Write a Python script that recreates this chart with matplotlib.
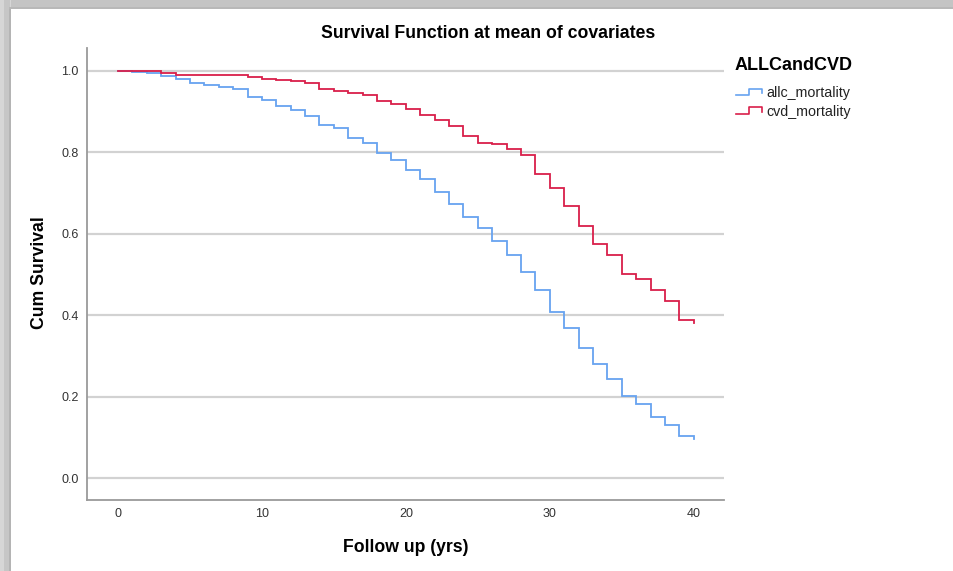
import numpy as np
import matplotlib
matplotlib.use("Agg")
import matplotlib.pyplot as plt
from matplotlib.lines import Line2D
from matplotlib.patches import Rectangle

plt.rcParams['font.family'] = ['Liberation Sans', 'DejaVu Sans']

# survival estimates at each follow-up year (value holds until the next year)
years = list(range(0, 41))
allc_mortality = [1.000, 0.996, 0.994, 0.987, 0.980, 0.971, 0.966, 0.959, 0.955, 0.935,
                  0.928, 0.913, 0.904, 0.890, 0.866, 0.859, 0.834, 0.823, 0.797, 0.782,
                  0.757, 0.734, 0.703, 0.674, 0.640, 0.613, 0.581, 0.548, 0.507, 0.461,
                  0.407, 0.368, 0.320, 0.280, 0.242, 0.201, 0.182, 0.151, 0.129, 0.104,
                  0.095]
cvd_mortality = [1.000, 1.000, 1.000, 0.994, 0.989, 0.989, 0.989, 0.989, 0.989, 0.984,
                 0.981, 0.977, 0.975, 0.969, 0.955, 0.951, 0.945, 0.941, 0.925, 0.918,
                 0.905, 0.891, 0.880, 0.864, 0.841, 0.822, 0.820, 0.809, 0.793, 0.747,
                 0.713, 0.668, 0.620, 0.574, 0.548, 0.502, 0.489, 0.462, 0.435, 0.387,
                 0.381]
series_names = ['allc_mortality', 'cvd_mortality']
series_colors = ['#67a3f0', '#d91f4a']
x_ticks = [0, 10, 20, 30, 40]
y_ticks = [0.0, 0.2, 0.4, 0.6, 0.8, 1.0]

W, H = 954, 571
fig = plt.figure(figsize=(W / 100, H / 100), dpi=100)
fig.patch.set_facecolor('white')

# window frame along the left and top edges
def px_rect(x0, y0, w, h, color):
    fig.add_artist(Rectangle((x0 / W, 1 - (y0 + h) / H), w / W, h / H,
                             transform=fig.transFigure, facecolor=color,
                             edgecolor='none', zorder=0))

px_rect(0, 0, W, 9, '#c4c4c4')
px_rect(0, 0, 11, H, '#d6d6d6')
px_rect(4, 0, 6, H, '#c6c6c6')
px_rect(9, 8, 2, H, '#b4b4b4')
px_rect(9, 7, W, 2, '#b8b8b8')

ax = fig.add_axes([87 / W, 1 - 500 / H, (724 - 87) / W, (500 - 48) / H])
ax.set_facecolor('white')

for vals, name, col in zip([allc_mortality, cvd_mortality], series_names, series_colors):
    ax.plot(years, vals, drawstyle='steps-post', color=col, lw=1.3, zorder=3,
            solid_joinstyle='miter')

ax.set_xlim(-2.15, 42.1)
ax.set_ylim(-0.054, 1.056)
ax.set_xticks(x_ticks)
ax.set_yticks(y_ticks)
ax.set_yticklabels([f'{v:.1f}' for v in y_ticks])
ax.tick_params(length=0, labelsize=9, colors='#333333', pad=6)
ax.grid(axis='y', color='#d2d2d2', lw=1.6)
ax.set_axisbelow(True)
for side in ['top', 'right']:
    ax.spines[side].set_visible(False)
for side in ['left', 'bottom']:
    ax.spines[side].set_color('#9a9a9a')
    ax.spines[side].set_linewidth(1.3)

fig.text(488 / W, 1 - 34 / H, 'Survival Function at mean of covariates',
         ha='center', va='center', fontsize=12.7, fontweight='bold')
fig.text(406 / W, 1 - 547 / H, 'Follow up (yrs)', ha='center', va='center',
         fontsize=12.7, fontweight='bold')
fig.text(40 / W, 1 - 273 / H, 'Cum Survival', ha='center', va='center',
         rotation=90, fontsize=12.7, fontweight='bold')

# legend with step-shaped keys
fig.text(735 / W, 1 - 65 / H, 'ALLCandCVD', ha='left', va='center',
         fontsize=13, fontweight='bold')
for i, (name, col) in enumerate(zip(series_names, series_colors)):
    yb = 95 + 18.5 * i
    xs = np.array([736, 749, 749, 762, 762]) / W
    ys = 1 - np.array([yb, yb, yb - 6.5, yb - 6.5, yb - 2]) / H
    fig.add_artist(Line2D(xs, ys, transform=fig.transFigure, color=col, lw=1.2))
    fig.text(766 / W, 1 - (yb - 1.5) / H, name, ha='left', va='center',
             fontsize=10.3, color='#222222')

fig.savefig('out.png', dpi=100)
